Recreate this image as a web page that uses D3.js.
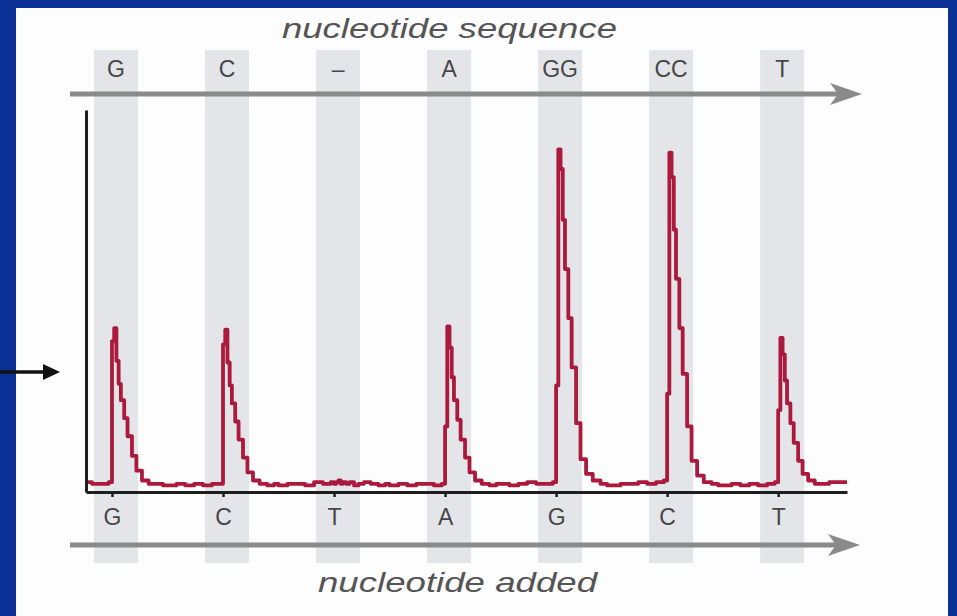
<!DOCTYPE html>
<html>
<head>
<meta charset="utf-8">
<script src="https://cdn.jsdelivr.net/npm/d3@7"></script>
<style>
  html, body { margin: 0; padding: 0; background: #0b3197; }
  svg { display: block; }
</style>
</head>
<body>
<div id="chart"></div>
<script>
// Data
const sequenceLabels = ['G', 'C', '–', 'A', 'GG', 'CC', 'T']
const addedLabels = ['G', 'C', 'T', 'A', 'G', 'C', 'T']

// trace samples, offsets in flow units relative to each dispensation
const sampleOffsets = [-0.5, -0.42, -0.34, -0.26, -0.18, -0.1, -0.03, 0, 0.02, 0.04, 0.06, 0.08, 0.11, 0.14, 0.18, 0.22, 0.27, 0.33, 0.4, 0.46]
const traceG1 = [0.05, 0.04, 0.05, 0.06, 0.05, 0.05, 0.06, 0.92, 1.0, 0.8, 0.66, 0.56, 0.45, 0.34, 0.22, 0.13, 0.07, 0.05, 0.05, 0.04]
const traceC1 = [0.04, 0.05, 0.04, 0.05, 0.04, 0.05, 0.05, 0.9, 0.99, 0.79, 0.65, 0.54, 0.43, 0.32, 0.21, 0.12, 0.07, 0.05, 0.04, 0.05]
const traceT1 = [0.04, 0.05, 0.05, 0.04, 0.06, 0.05, 0.06, 0.05, 0.06, 0.07, 0.05, 0.06, 0.05, 0.06, 0.04, 0.05, 0.06, 0.05, 0.04, 0.05]
const traceA = [0.04, 0.05, 0.04, 0.05, 0.05, 0.04, 0.05, 0.4, 1.01, 0.88, 0.7, 0.56, 0.44, 0.32, 0.21, 0.12, 0.07, 0.05, 0.04, 0.05]
const traceG2 = [0.05, 0.04, 0.05, 0.06, 0.05, 0.05, 0.06, 0.65, 2.09, 1.97, 1.66, 1.36, 1.06, 0.76, 0.42, 0.2, 0.11, 0.07, 0.05, 0.04]
const traceC2 = [0.04, 0.05, 0.05, 0.06, 0.05, 0.06, 0.07, 0.6, 2.07, 1.92, 1.6, 1.3, 1.0, 0.72, 0.4, 0.19, 0.1, 0.06, 0.05, 0.04]
const traceT2 = [0.04, 0.05, 0.04, 0.05, 0.04, 0.05, 0.06, 0.5, 0.94, 0.84, 0.68, 0.54, 0.42, 0.3, 0.19, 0.11, 0.07, 0.05, 0.05, 0.06]
const traces = [traceG1, traceC1, traceT1, traceA, traceG2, traceC2, traceT2]

// Layout
const W = 957
const H = 616
const xStart = -0.234
const xEnd = 6.62
const font = 'Liberation Sans, Arial, sans-serif'

const svg = d3.select('#chart').append('svg')
  .attr('width', W)
  .attr('height', H)

// white panel inside blue frame
svg.append('rect')
  .attr('x', 16).attr('y', 8)
  .attr('width', 932).attr('height', H - 8)
  .attr('fill', '#fdfdfd')

// Scales
const x = d3.scaleLinear().domain([xStart, xEnd]).range([86, 847])
const y = d3.scaleLinear().domain([0, 2.33]).range([492, 110])

// Gray bands
const bandW = 44
svg.append('g').selectAll('rect')
  .data(sequenceLabels)
  .enter()
  .append('rect')
  .attr('x', (_, i) => x(i) + 4 - bandW / 2)
  .attr('y', 50)
  .attr('width', bandW)
  .attr('height', 513)
  .attr('fill', '#e3e5e9')

// Arrows
function arrow(yPos, x0, tip) {
  const g = svg.append('g').attr('fill', '#8a8a8a')
  g.append('line')
    .attr('x1', x0).attr('x2', tip - 10)
    .attr('y1', yPos).attr('y2', yPos)
    .attr('stroke', '#8a8a8a')
    .attr('stroke-width', 5)
  g.append('path')
    .attr('d', `M${tip},${yPos} L${tip - 32},${yPos - 11} L${tip - 24},${yPos} L${tip - 32},${yPos + 11} Z`)
}
arrow(94, 70, 862)
arrow(545, 70, 860)

// Titles
svg.append('text')
  .attr('x', 282).attr('y', 38)
  .attr('textLength', 335)
  .attr('lengthAdjust', 'spacingAndGlyphs')
  .style('font-family', font)
  .style('font-style', 'italic')
  .style('font-size', '28px')
  .attr('fill', '#555')
  .text('nucleotide sequence')

svg.append('text')
  .attr('x', 318).attr('y', 592)
  .attr('textLength', 279)
  .attr('lengthAdjust', 'spacingAndGlyphs')
  .style('font-family', font)
  .style('font-style', 'italic')
  .style('font-size', '28px')
  .attr('fill', '#555')
  .text('nucleotide added')

// Top labels
svg.append('g').selectAll('text')
  .data(sequenceLabels)
  .enter()
  .append('text')
  .attr('x', (_, i) => x(i) + 4)
  .attr('y', 77)
  .attr('text-anchor', 'middle')
  .style('font-family', font)
  .style('font-size', '23px')
  .attr('fill', '#464646')
  .text(d => d)

// Trace
const points = []
traces.forEach((vals, i) => {
  vals.forEach((v, j) => points.push([i + sampleOffsets[j], v]))
})
points.push([xEnd, traceT2[traceT2.length - 1]])

svg.append('clipPath').attr('id', 'plot-clip')
  .append('rect')
  .attr('x', x(xStart)).attr('y', 0)
  .attr('width', x(xEnd) - x(xStart)).attr('height', H)

const line = d3.line()
  .x(d => x(d[0]))
  .y(d => y(d[1]))
  .curve(d3.curveStepAfter)

svg.append('path')
  .datum(points)
  .attr('clip-path', 'url(#plot-clip)')
  .attr('fill', 'none')
  .attr('stroke', '#ab1a3c')
  .attr('stroke-width', 3.8)
  .attr('stroke-linejoin', 'round')
  .attr('d', line)

// Axes
const xAxis = d3.axisBottom(x)
  .tickValues(d3.range(addedLabels.length))
  .tickSize(5)
  .tickSizeOuter(0)
  .tickPadding(12)
  .tickFormat(i => addedLabels[i])

const gx = svg.append('g')
  .attr('transform', `translate(0, ${y(0)})`)
  .call(xAxis)
gx.select('.domain').attr('stroke', '#1e1e1e').attr('stroke-width', 3)
gx.selectAll('.tick line').attr('stroke', '#1e1e1e').attr('stroke-width', 2.5)
gx.selectAll('.tick text')
  .style('font-family', font)
  .style('font-size', '23px')
  .attr('fill', '#464646')

const gy = svg.append('g')
  .attr('transform', `translate(${x(xStart)}, 0)`)
  .call(d3.axisLeft(y).tickValues([]).tickSizeOuter(0))
gy.select('.domain').attr('stroke', '#1e1e1e').attr('stroke-width', 3)

// Left pointer arrow
svg.append('line')
  .attr('x1', 0).attr('x2', 46)
  .attr('y1', 372).attr('y2', 372)
  .attr('stroke', '#111')
  .attr('stroke-width', 3.5)
svg.append('path')
  .attr('d', 'M60,372 L43,364 L43,380 Z')
  .attr('fill', '#111')
</script>
</body>
</html>
